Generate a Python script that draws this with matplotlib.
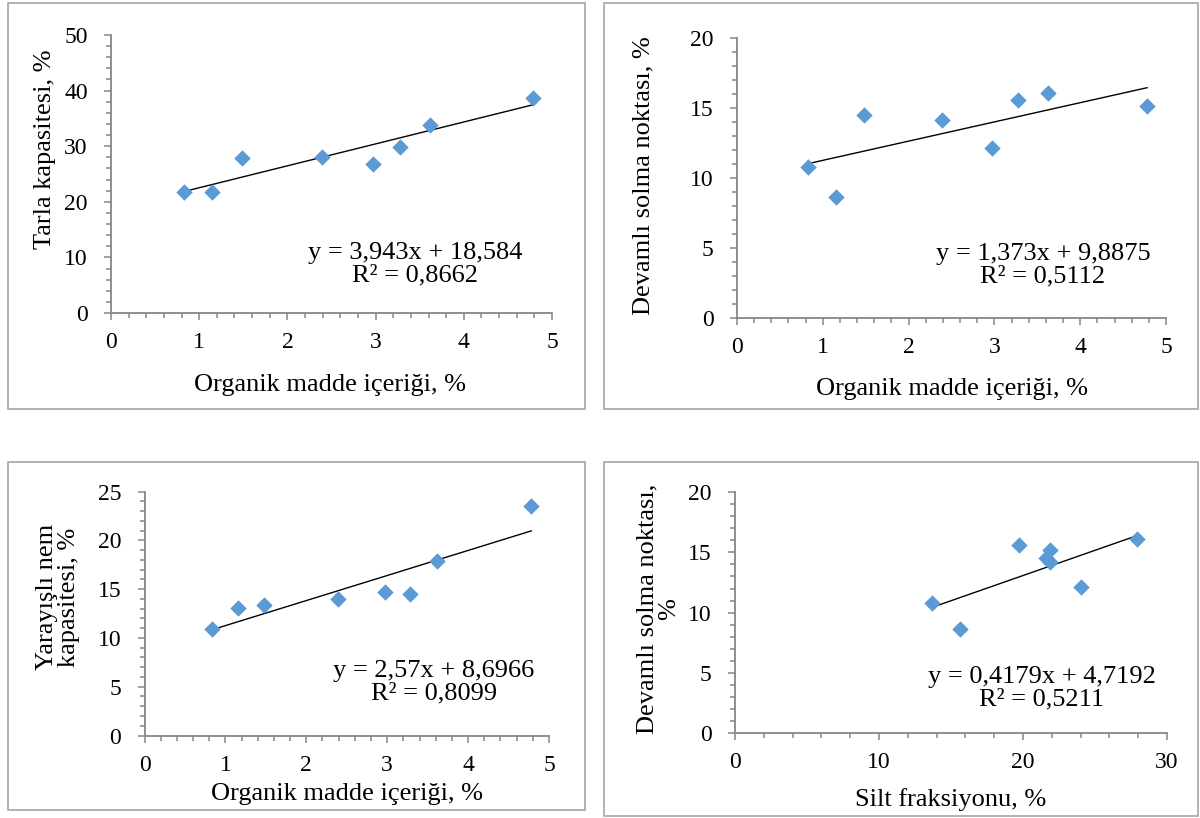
import matplotlib
matplotlib.use("Agg")
import matplotlib.pyplot as plt
import numpy as np
from matplotlib.patches import Rectangle
from matplotlib.ticker import MultipleLocator

plt.rcParams['font.family'] = ['Liberation Serif', 'DejaVu Serif']

# organik madde (%) for the 8 soils
om = [0.83, 1.15, 1.48, 2.39, 2.97, 3.28, 3.62, 4.78]
# silt fraksiyonu (%) for the same soils
silt = [13.7, 15.6, 21.6, 21.9, 24.0, 19.7, 27.9, 21.9]

tarla_kap = [21.8, 21.7, 27.8, 28.1, 26.8, 29.9, 33.9, 38.7]
solma = [10.8, 8.65, 14.5, 14.17, 12.14, 15.58, 16.1, 15.17]
nem_kap = [10.9, 13.1, 13.4, 14.0, 14.67, 14.46, 17.9, 23.5]

# trendline coefficients (slope, intercept) as printed on the chart
fit_tk = (3.943, 18.584)
fit_sn = (1.373, 9.8875)
fit_nk = (2.57, 8.6966)
fit_silt = (0.4179, 4.7192)

eq_tk = ["y = 3,943x + 18,584", "R² = 0,8662"]
eq_sn = ["y = 1,373x + 9,8875", "R² = 0,5112"]
eq_nk = ["y = 2,57x + 8,6966", "R² = 0,8099"]
eq_silt = ["y = 0,4179x + 4,7192", "R² = 0,5211"]

W, H = 1200, 818
fig = plt.figure(figsize=(W / 100, H / 100), dpi=100)

def fx(px):
    return px / W

def fy(py):
    return 1 - py / H

def box(x0, y0, x1, y1):
    # pixel box (top-left origin) -> figure fraction rect
    return [fx(x0), fy(y1), fx(x1) - fx(x0), fy(y0) - fy(y1)]

blue = '#5B9BD5'
axcol = '#868686'
fs_tick = 17
fs_lab = 19

# chart area borders
for b in [(7.5, 3.5, 585, 409), (604, 3.5, 1197.5, 409), (7.5, 462, 585, 810), (604, 462, 1197.5, 816)]:
    fig.patches.append(Rectangle((fx(b[0]), fy(b[3])), fx(b[2]) - fx(b[0]), fy(b[1]) - fy(b[3]),
                                 transform=fig.transFigure, fill=False, edgecolor='#A6A6A6', lw=1.2))

def panel(rect, x, y, fit, xmax, ymax, xmaj, ymaj, eq, eqpos):
    ax = fig.add_axes(rect)
    ax.scatter(x, y, marker='D', s=70, color=blue, zorder=3, linewidths=0, clip_on=False)
    xs = np.array([min(x), max(x)])
    ax.plot(xs, fit[0] * xs + fit[1], color='black', lw=1, zorder=2)
    ax.set_xlim(0, xmax)
    ax.set_ylim(0, ymax)
    ax.xaxis.set_major_locator(MultipleLocator(xmaj))
    ax.xaxis.set_minor_locator(MultipleLocator(xmaj / 5))
    ax.yaxis.set_major_locator(MultipleLocator(ymaj))
    ax.yaxis.set_minor_locator(MultipleLocator(ymaj / 5))
    for s in ['top', 'right']:
        ax.spines[s].set_visible(False)
    for s in ['left', 'bottom']:
        ax.spines[s].set_color(axcol)
        ax.spines[s].set_linewidth(1.3)
    ax.tick_params(which='both', direction='out', color=axcol, width=1.1, labelsize=fs_tick)
    ax.tick_params(which='major', length=4.8)
    ax.tick_params(which='minor', length=3.3)
    ax.tick_params(axis='y', which='major', pad=12)
    ax.tick_params(axis='x', which='major', pad=9)
    ax.patch.set_alpha(0)
    fig.text(fx(eqpos[0]), fy(eqpos[1]), eq[0] + "\n" + eq[1], ha='center', va='center',
             fontsize=fs_lab, linespacing=1.0, multialignment='center')
    return ax

panel(box(111, 35, 552, 313), om, tarla_kap, fit_tk, 5, 50, 1, 10, eq_tk, (415, 264))
panel(box(737, 38, 1166, 318), om, solma, fit_sn, 5, 20, 1, 5, eq_sn, (1043, 265))
panel(box(144.5, 491.7, 549, 735.5), om, nem_kap, fit_nk, 5, 25, 1, 5, eq_nk, (434, 682))
panel(box(735, 492, 1167, 733.3), silt, solma, fit_silt, 30, 20, 10, 5, eq_silt, (1042, 688))

# axis titles
fig.text(fx(330), fy(391), "Organik madde içeriği, %", ha='center', va='baseline', fontsize=fs_lab)
fig.text(fx(952), fy(395), "Organik madde içeriği, %", ha='center', va='baseline', fontsize=fs_lab)
fig.text(fx(347), fy(800), "Organik madde içeriği, %", ha='center', va='baseline', fontsize=fs_lab)
fig.text(fx(951), fy(806), "Silt fraksiyonu, %", ha='center', va='baseline', fontsize=fs_lab)

fig.text(fx(45), fy(149), "Tarla kapasitesi, %", rotation=90, ha='center', va='center', fontsize=fs_lab)
fig.text(fx(643), fy(176), "Devamlı solma noktası, %", rotation=90, ha='center', va='center', fontsize=fs_lab)
fig.text(fx(58), fy(597), "Yarayışlı nem\nkapasitesi, %", rotation=90, ha='center', va='center',
         fontsize=fs_lab, linespacing=1.0)
fig.text(fx(658), fy(609), "Devamlı solma noktası,\n%", rotation=90, ha='center', va='center',
         fontsize=fs_lab, linespacing=1.0)

fig.savefig("out.png", dpi=100)
